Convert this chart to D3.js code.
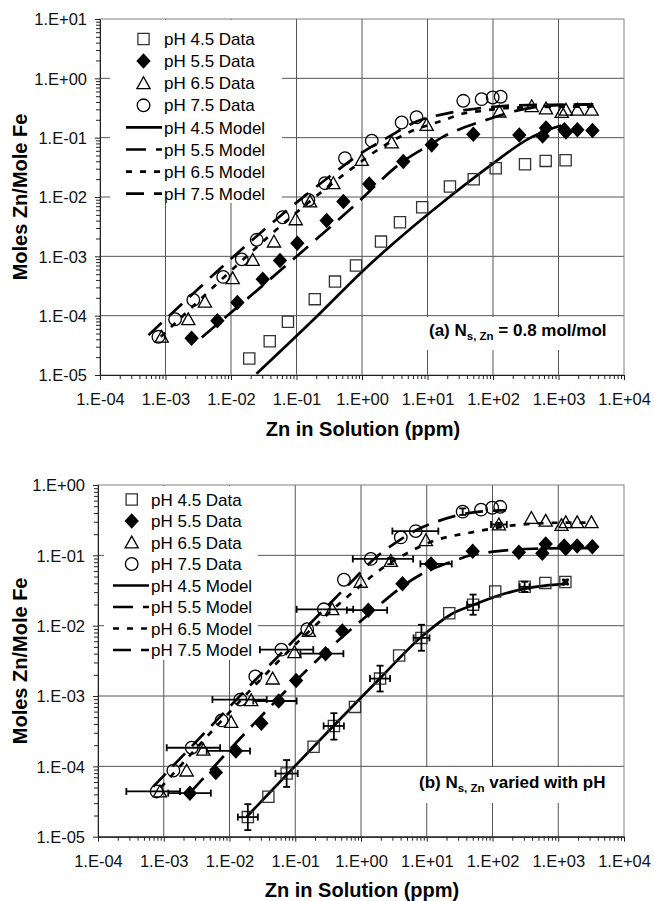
<!DOCTYPE html>
<html>
<head>
<meta charset="utf-8">
<script src="https://cdn.jsdelivr.net/npm/d3@7"></script>
<style>
  body { margin: 0; background: #fff; }
  svg { display: block; font-family: "Liberation Sans", Arial, sans-serif; }
</style>
</head>
<body>
<svg id="chart" width="654" height="901"></svg>
<script>
// ---- tick labels ----
const xTickValues = [1e-4, 1e-3, 1e-2, 1e-1, 1e0, 1e1, 1e2, 1e3, 1e4];
const xTickLabels = ["1.E-04", "1.E-03", "1.E-02", "1.E-01", "1.E+00", "1.E+01", "1.E+02", "1.E+03", "1.E+04"];
const yTickValuesA = [1e-5, 1e-4, 1e-3, 1e-2, 1e-1, 1e0, 1e1];
const yTickLabelsA = ["1.E-05", "1.E-04", "1.E-03", "1.E-02", "1.E-01", "1.E+00", "1.E+01"];
const yTickValuesB = [1e-5, 1e-4, 1e-3, 1e-2, 1e-1, 1e0];
const yTickLabelsB = ["1.E-05", "1.E-04", "1.E-03", "1.E-02", "1.E-01", "1.E+00"];

const seriesNames = ["pH 4.5", "pH 5.5", "pH 6.5", "pH 7.5"];

// ---- measured data [Zn ppm, mol Zn / mol Fe] (same in both panels) ----
const dataPH45 = [[0.019,1.9e-5],[0.039,3.7e-5],[0.074,7.9e-5],[0.19,1.9e-4],[0.387,3.75e-4],[0.81,7.0e-4],
  [1.95,1.77e-3],[3.8,3.76e-3],[8.3,6.7e-3],[22,0.015],[50.7,0.0199],[110,0.0306],[308,0.0357],[637,0.0406],[1285,0.0417]];
const dataPH55 = [[2.5e-3,4.16e-5],[6.2e-3,8.2e-5],[0.0125,1.66e-4],[0.0305,4.1e-4],[0.056,8.5e-4],[0.103,1.66e-3],
  [0.289,4.0e-3],[0.52,8.4e-3],[1.29,0.0166],[4.27,0.0396],[11.6,0.0756],[50,0.1145],[252,0.111],[572,0.107],
  [644,0.145],[1230,0.136],[1300,0.125],[1940,0.136],[3300,0.132]];
const dataPH65 = [[8.75e-4,4.4e-5],[2.23e-3,8.7e-5],[4.0e-3,1.72e-4],[0.0106,4.27e-4],[0.0214,8.7e-4],[0.0453,1.77e-3],
  [0.0973,4.2e-3],[0.161,8.4e-3],[0.365,0.0171],[0.99,0.042],[2.84,0.083],[9.7,0.164],[125,0.275],[390,0.34],
  [644,0.31],[1120,0.27],[1300,0.295],[1940,0.295],[3200,0.295]];
const dataPH75 = [[7.8e-4,4.4e-5],[1.4e-3,8.7e-5],[2.66e-3,1.84e-4],[7.6e-3,4.5e-4],[0.0146,8.9e-4],[0.0247,1.9e-3],
  [0.0615,4.56e-3],[0.152,8.9e-3],[0.272,0.0171],[0.55,0.045],[1.41,0.089],[4.03,0.18],[6.8,0.221],[35.2,0.418],
  [67,0.446],[99,0.475],[131,0.49]];

// ---- model curves, panel (a) Ns,Zn = 0.8 ----
const modelA45 = [[0.0245,1.05e-5],[0.229,1.1e-4],[1.0,5.5e-4],[22,0.0102],[101,0.037],[327,0.092],[834,0.145],[1100,0.16]];
const modelA55 = [[3.57e-3,4.3e-5],[0.736,6.9e-3],[4.27,0.04],[11.6,0.079],[17.4,0.104],[39.6,0.154],[80,0.2],
  [258,0.294],[1180,0.357],[3400,0.365]];
const modelA65 = [[8.5e-4,4.4e-5],[0.656,0.0286],[2.0,0.069],[5.1,0.122],[18.5,0.2],[35,0.255],[63,0.28],[193,0.32],[3400,0.335]];
const modelA75 = [[5.5e-4,4.7e-5],[0.161,0.0123],[0.344,0.0236],[0.966,0.0547],[2.58,0.104],[6.8,0.187],[20.8,0.259],
  [39.6,0.294],[114,0.335],[464,0.357],[3400,0.36]];

// ---- model curves, panel (b) Ns,Zn varied with pH ----
const modelB45 = [[0.0183,1.92e-5],[1.95,1.79e-3],[8.4,7.0e-3],[22.6,0.0142],[51,0.0197],[109,0.0258],[301,0.0333],[628,0.037],[1300,0.0392]];
const modelB55 = [[2.5e-3,4.2e-5],[0.966,0.0114],[7.9,0.0526],[25.4,0.083],[48.3,0.101],[103,0.113],[418,0.124],[3400,0.127]];
const modelB65 = [[9e-4,5.0e-5],[0.641,0.0264],[1.95,0.062],[5.56,0.113],[14.2,0.166],[40.6,0.206],[76.9,0.23],[233,0.27],[1510,0.292],[3400,0.292]];
const modelB75 = [[6.93e-4,5.14e-5],[0.764,0.0447],[1.73,0.0957],[2.83,0.135],[7.03,0.229],[13.3,0.295],[42.9,0.398],[160,0.44]];

// ---- error bars, panel (b): [x, y, xlo, xhi, ylo, yhi] ----
const errPH45 = [[0.019,1.9e-5,0.0134,0.027,1.24e-5,2.9e-5],[0.074,7.9e-5,0.050,0.109,5.1e-5,1.23e-4],
  [0.387,3.75e-4,0.27,0.55,2.4e-4,5.7e-4],[1.95,1.77e-3,1.37,2.77,1.16e-3,2.7e-3],[8.3,6.7e-3,6.3,11,4.4e-3,1.03e-2],
  [50.7,0.0199,41,62,0.0143,0.0277],[308,0.0357,259,366,0.0302,0.0421],[1285,0.0417,1200,1380,0.039,0.045]];
const errPH55 = [[2.5e-3,4.16e-5,1.17e-3,5.2e-3,4.16e-5,4.16e-5],[0.0125,1.66e-4,4.5e-3,0.0205,1.66e-4,1.66e-4],
  [0.056,8.5e-4,0.023,0.105,8.5e-4,8.5e-4],[0.289,4.0e-3,0.12,0.54,4.0e-3,4.0e-3],[1.29,0.0166,0.61,2.5,0.0166,0.0166],
  [11.6,0.0756,8.0,24,0.0756,0.0756]];
const errPH65 = [[2.84,0.083,2.84,2.84,0.075,0.092],[125,0.275,95,165,0.26,0.29]];
const errPH75 = [[7.8e-4,4.4e-5,2.7e-4,1.77e-3,4.4e-5,4.4e-5],[2.66e-3,1.84e-4,1.11e-3,7.2e-3,1.84e-4,1.84e-4],
  [0.0146,8.9e-4,5.5e-3,0.0368,8.9e-4,8.9e-4],[0.0615,4.56e-3,0.029,0.188,4.56e-3,4.56e-3],
  [0.272,0.0171,0.105,0.76,0.0171,0.0171],[1.41,0.089,0.75,6.2,0.089,0.089],[6.8,0.221,3.0,15,0.221,0.221],
  [35.2,0.418,35.2,35.2,0.375,0.465]];

const dataSets = [dataPH45, dataPH55, dataPH65, dataPH75];

// ---- styles ----
const styles = [
  { marker: "square",   fill: "none", stroke: "#333", dash: null },
  { marker: "diamond",  fill: "#000", stroke: "#000", dash: "20,10" },
  { marker: "triangle", fill: "none", stroke: "#000", dash: "6,8" },
  { marker: "circle",   fill: "none", stroke: "#000", dash: "18,10" }
];

function markerPath(kind) {
  switch (kind) {
    case "square":   return "M-5.6,-5.6H5.6V5.6H-5.6Z";
    case "diamond":  return "M0,-6.8L6.3,0L0,6.8L-6.3,0Z";
    case "triangle": return "M0,-6.4L6.6,5.4H-6.6Z";
    default:         return "M6.3,0A6.3,6.3 0 1 1 -6.3,0A6.3,6.3 0 1 1 6.3,0Z";
  }
}

const panels = [
  { id: "a", left: 100, right: 624, top: 19, bottom: 375, yMax: 10,
    yTicks: yTickValuesA, yLabels: yTickLabelsA,
    models: [modelA45, modelA55, modelA65, modelA75], errors: null,
    legend: { box: [110, 20, 282, 203], sampleX: 126, markerX: 143.5, textX: 164, rowY: 39, step: 22.1 },
    note: { box: [424, 317, 614, 350], x: 429, y: 336, lead: "(a) N", tail: " = 0.8 mol/mol" },
    titleY: 436 },
  { id: "b", left: 98, right: 624, top: 485, bottom: 836.7, yMax: 1,
    yTicks: yTickValuesB, yLabels: yTickLabelsB,
    models: [modelB45, modelB55, modelB65, modelB75], errors: [errPH45, errPH55, errPH65, errPH75],
    legend: { box: [104, 486, 258, 660], sampleX: 113, markerX: 131.7, textX: 151, rowY: 499.5, step: 21.5 },
    note: { box: [415, 767, 612, 803], x: 419, y: 788, lead: "(b) N", tail: " varied with pH" },
    titleY: 897 }
];

const svg = d3.select("#chart");

function minorTicks(lo, hi) {
  const out = [];
  for (let d = lo; d < hi * 0.999; d *= 10) for (let k = 2; k <= 9; k++) out.push(d * k);
  return out;
}

panels.forEach(p => {
  const x = d3.scaleLog().domain([1e-4, 1e4]).range([p.left, p.right]);
  const y = d3.scaleLog().domain([1e-5, p.yMax]).range([p.bottom, p.top]);
  const g = svg.append("g");

  g.append("clipPath").attr("id", "clip-" + p.id)
    .append("rect").attr("x", p.left).attr("y", p.top)
    .attr("width", p.right - p.left).attr("height", p.bottom - p.top);

  // grid
  g.append("g").selectAll("line").data(xTickValues.slice(1, -1)).join("line")
    .attr("x1", d => x(d)).attr("x2", d => x(d)).attr("y1", p.top).attr("y2", p.bottom)
    .attr("stroke", "#555").attr("stroke-width", 1);
  g.append("g").selectAll("line").data(p.yTicks.slice(1, -1)).join("line")
    .attr("y1", d => y(d)).attr("y2", d => y(d)).attr("x1", p.left).attr("x2", p.right)
    .attr("stroke", "#555").attr("stroke-width", 1);
  g.append("rect").attr("x", p.left).attr("y", p.top)
    .attr("width", p.right - p.left).attr("height", p.bottom - p.top)
    .attr("fill", "none").attr("stroke", "#808080").attr("stroke-width", 1);

  // white boxes for legend and note
  const lb = p.legend.box, nb = p.note.box;
  g.append("rect").attr("x", lb[0]).attr("y", lb[1]).attr("width", lb[2] - lb[0]).attr("height", lb[3] - lb[1]).attr("fill", "#fff");
  g.append("rect").attr("x", nb[0]).attr("y", nb[1]).attr("width", nb[2] - nb[0]).attr("height", nb[3] - nb[1]).attr("fill", "#fff");

  // axes
  const xAxis = d3.axisBottom(x).tickValues(xTickValues).tickFormat((d, i) => xTickLabels[i]).tickSize(5).tickSizeOuter(0);
  const xMinor = d3.axisBottom(x).tickValues(minorTicks(1e-4, 1e4)).tickFormat("").tickSize(4).tickSizeOuter(0);
  const yAxis = d3.axisLeft(y).tickValues(p.yTicks).tickFormat((d, i) => p.yLabels[i]).tickSize(5).tickSizeOuter(0);
  const yMinor = d3.axisLeft(y).tickValues(minorTicks(1e-5, p.yMax)).tickFormat("").tickSize(4).tickSizeOuter(0);

  const gx = g.append("g").attr("transform", `translate(0,${p.bottom})`).call(xAxis);
  g.append("g").attr("transform", `translate(0,${p.bottom})`).call(xMinor);
  const gy = g.append("g").attr("transform", `translate(${p.left},0)`).call(yAxis);
  g.append("g").attr("transform", `translate(${p.left},0)`).call(yMinor);
  g.selectAll(".domain").attr("stroke", "#222");
  g.selectAll(".tick line").attr("stroke", "#222");
  gx.selectAll("text").attr("font-size", 16.5).attr("fill", "#111").attr("dy", null).attr("y", 30);
  gy.selectAll("text").attr("font-size", 16.5).attr("fill", "#111").attr("x", -13).attr("dy", "0.35em");

  // model curves
  const line = d3.line().x(d => x(d[0])).y(d => y(d[1])).curve(d3.curveMonotoneX);
  const gm = g.append("g").attr("clip-path", `url(#clip-${p.id})`);
  p.models.forEach((m, i) => {
    gm.append("path").attr("d", line(m)).attr("fill", "none").attr("stroke", "#000")
      .attr("stroke-width", 2.7).attr("stroke-dasharray", styles[i].dash);
  });

  // data markers
  dataSets.forEach((ds, i) => {
    g.append("g").selectAll("path").data(ds).join("path")
      .attr("transform", d => `translate(${x(d[0])},${y(d[1])})`)
      .attr("d", markerPath(styles[i].marker))
      .attr("fill", styles[i].fill).attr("stroke", styles[i].stroke).attr("stroke-width", 1.3);
  });

  // error bars
  if (p.errors) {
    const ge = g.append("g").attr("stroke", "#000").attr("stroke-width", 1.8).attr("fill", "none");
    p.errors.forEach(es => {
      es.forEach(e => {
        const cx = x(e[0]), cy = y(e[1]);
        if (e[2] !== e[3]) {
          ge.append("line").attr("x1", x(e[2])).attr("x2", x(e[3])).attr("y1", cy).attr("y2", cy);
          [e[2], e[3]].forEach(v => ge.append("line").attr("x1", x(v)).attr("x2", x(v)).attr("y1", cy - 3.5).attr("y2", cy + 3.5));
        }
        if (e[4] !== e[5]) {
          ge.append("line").attr("x1", cx).attr("x2", cx).attr("y1", y(e[4])).attr("y2", y(e[5]));
          [e[4], e[5]].forEach(v => ge.append("line").attr("x1", cx - 3.5).attr("x2", cx + 3.5).attr("y1", y(v)).attr("y2", y(v)));
        }
      });
    });
  }

  // legend
  const L = p.legend;
  const gl = g.append("g").attr("font-size", 17).attr("fill", "#000");
  seriesNames.forEach((name, i) => {
    const yy = L.rowY + i * L.step;
    gl.append("path").attr("transform", `translate(${L.markerX},${yy})`).attr("d", markerPath(styles[i].marker))
      .attr("fill", styles[i].fill).attr("stroke", styles[i].stroke).attr("stroke-width", 1.3);
    gl.append("text").attr("x", L.textX).attr("y", yy).attr("dy", "0.36em").text(name + " Data");
  });
  seriesNames.forEach((name, i) => {
    const yy = L.rowY + (i + 4) * L.step;
    gl.append("line").attr("x1", L.sampleX).attr("x2", L.sampleX + 36).attr("y1", yy).attr("y2", yy)
      .attr("stroke", "#000").attr("stroke-width", 2.7).attr("stroke-dasharray", styles[i].dash);
    gl.append("text").attr("x", L.textX).attr("y", yy).attr("dy", "0.36em").text(name + " Model");
  });

  // panel note
  const nt = g.append("text").attr("x", p.note.x).attr("y", p.note.y).attr("font-size", 17).attr("font-weight", "bold");
  nt.append("tspan").text(p.note.lead);
  nt.append("tspan").attr("font-size", 11.5).attr("dy", 4).text("s, Zn");
  nt.append("tspan").attr("dy", -4).text(p.note.tail);

  // axis titles
  g.append("text").attr("x", (p.left + p.right) / 2 + 1).attr("y", p.titleY).attr("text-anchor", "middle")
    .attr("font-size", 20).attr("font-weight", "bold").text("Zn in Solution (ppm)");
  g.append("text").attr("transform", `translate(27,${(p.top + p.bottom) / 2}) rotate(-90)`).attr("text-anchor", "middle")
    .attr("font-size", 20).attr("font-weight", "bold").text("Moles Zn/Mole Fe");
});
</script>
</body>
</html>
